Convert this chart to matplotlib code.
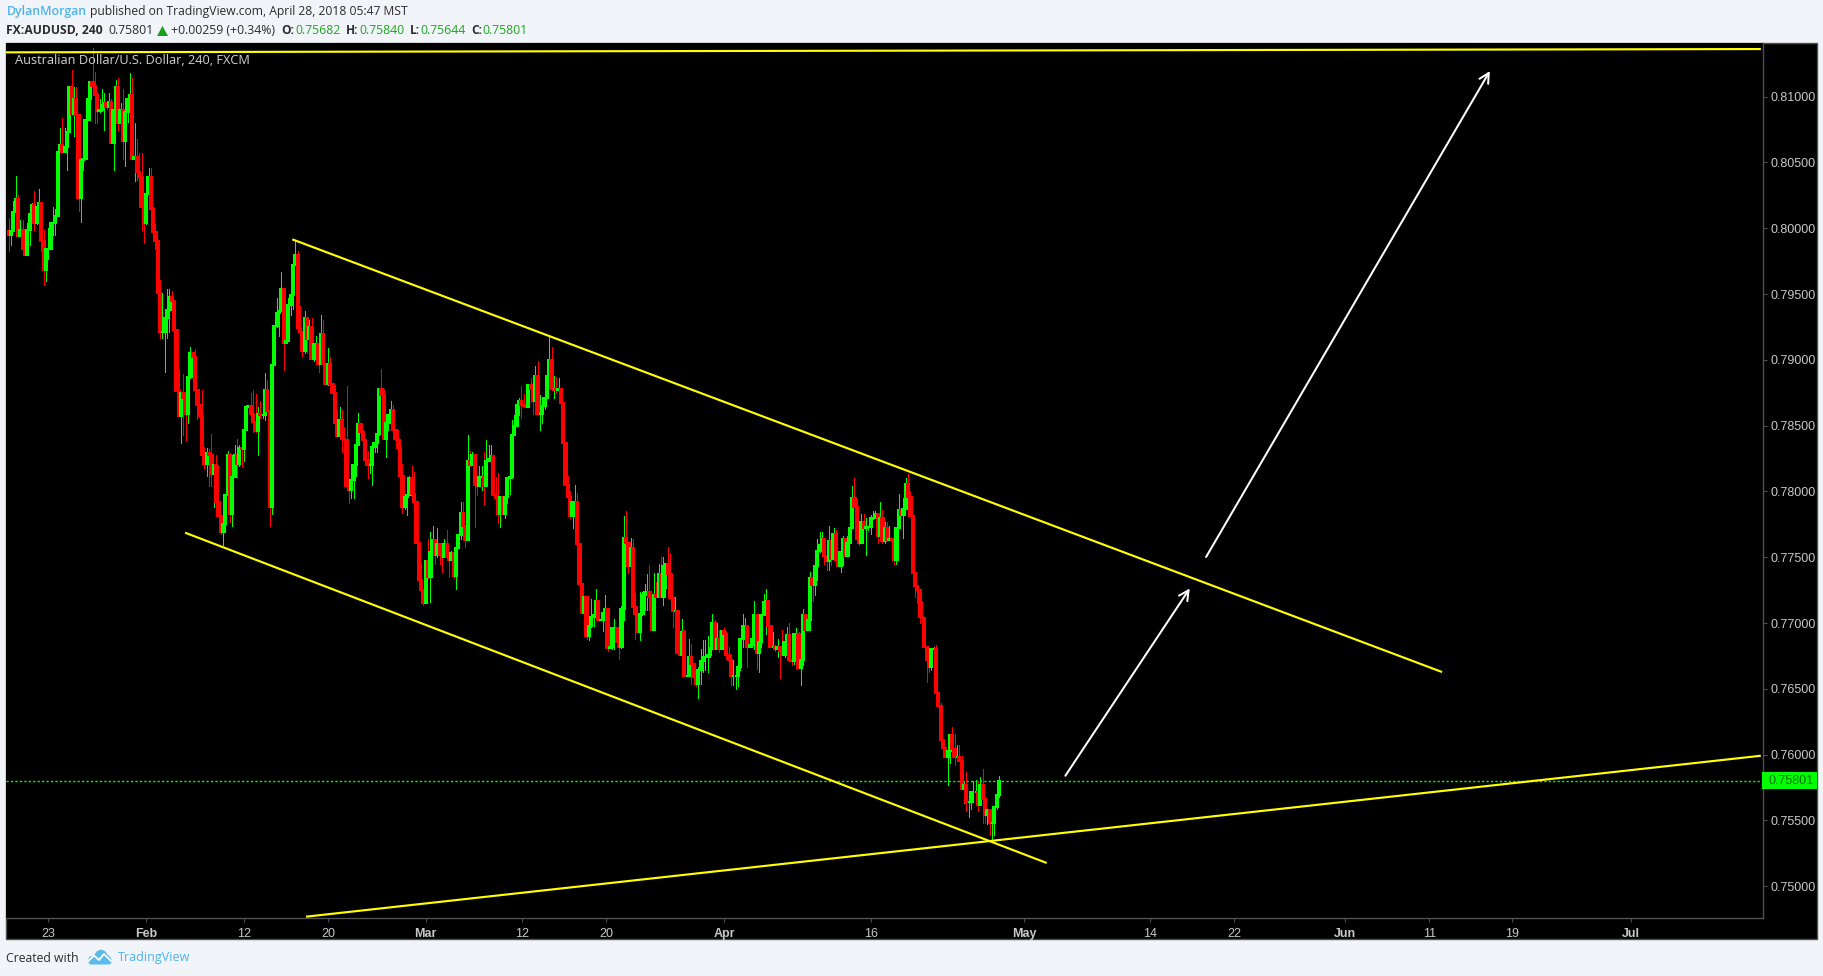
import matplotlib
matplotlib.use("Agg")
import matplotlib.pyplot as plt
from matplotlib.patches import Polygon, Rectangle

# ---- candle values, in 1/10000 of a dollar, one per 4h bar ----
first_open = 7998
closes = [
 7995,7998,8012,8022,7994,7999,7984,7980,7999,8011,8018,8004,8016,8019,7990,7968,7984,7984,8004,8004,
 8009,8058,8063,8058,8062,8073,8107,8087,8098,8086,8023,8052,8053,8082,8098,8111,8108,8101,8089,8090,
 8094,8095,8092,8096,8065,8090,8107,8080,8090,8066,8088,8098,8101,8053,8054,8043,8039,8016,8004,8026,
 8039,8015,7997,7990,7951,7921,7921,7932,7938,7948,7945,7923,7876,7857,7875,7871,7859,7887,7905,7902,
 7877,7866,7857,7828,7821,7829,7828,7813,7820,7792,7781,7769,7775,7797,7828,7783,7811,7828,7821,7833,
 7832,7847,7864,7865,7859,7853,7846,7859,7858,7858,7877,7861,7788,7896,7926,7936,7937,7954,7913,7914,
 7942,7949,7972,7980,7924,7921,7907,7932,7916,7925,7901,7912,7912,7897,7920,7897,7882,7897,7882,7875,
 7852,7842,7854,7840,7839,7804,7801,7809,7820,7835,7851,7845,7839,7824,7820,7820,7834,7837,7844,7878,
 7873,7840,7852,7858,7862,7847,7840,7833,7812,7788,7796,7797,7810,7798,7792,7761,7733,7725,7715,7747,
 7735,7754,7763,7752,7760,7752,7750,7760,7750,7748,7753,7736,7757,7767,7784,7774,7763,7823,7820,7828,
 7805,7804,7811,7811,7804,7823,7825,7827,7797,7795,7783,7796,7783,7796,7810,7811,7843,7850,7866,7869,
 7866,7865,7864,7881,7878,7869,7888,7859,7859,7865,7871,7888,7900,7878,7878,7877,7878,7867,7837,7805,
 7796,7781,7792,7792,7760,7730,7708,7720,7690,7698,7705,7706,7717,7702,7702,7708,7711,7681,7682,7696,
 7696,7686,7682,7711,7765,7761,7743,7757,7712,7707,7693,7707,7721,7724,7724,7720,7695,7721,7720,7737,
 7720,7743,7745,7737,7719,7709,7709,7677,7676,7693,7660,7660,7674,7669,7659,7654,7664,7671,7674,7674,
 7676,7681,7700,7680,7688,7680,7694,7692,7676,7672,7660,7660,7660,7667,7688,7698,7698,7682,7683,7688,
 7706,7677,7686,7706,7716,7717,7698,7682,7682,7680,7682,7679,7676,7686,7691,7672,7671,7692,7692,7666,
 7672,7706,7695,7702,7734,7729,7743,7755,7759,7764,7751,7747,7762,7749,7768,7748,7743,7754,7764,7751,
 7761,7772,7795,7788,7764,7761,7777,7772,7773,7773,7780,7780,7783,7766,7780,7762,7772,7763,7764,7763,
 7748,7772,7786,7782,7787,7806,7796,7781,7738,7728,7725,7705,7704,7682,7672,7667,7680,7680,7647,7637,
 7611,7605,7598,7603,7615,7604,7598,7598,7595,7574,7577,7564,7564,7572,7572,7572,7562,7577,7566,7554,
 7558,7548,7548,7560,7569,7580,
]
highs = [
 8008,8004,8021,8040,8025,8006,8006,7997,8004,8016,8019,8028,8018,8030,8019,7999,7985,8000,8004,8016,
 8015,8063,8076,8084,8076,8076,8107,8120,8107,8107,8086,8053,8053,8092,8100,8111,8137,8119,8103,8098,
 8106,8103,8096,8103,8098,8090,8113,8114,8095,8106,8090,8102,8118,8114,8080,8068,8057,8057,8018,8027,
 8046,8046,8016,8003,7990,7961,7951,7933,7954,7954,7952,7945,7923,7892,7875,7889,7877,7887,7910,7905,
 7908,7877,7866,7877,7834,7833,7832,7844,7820,7828,7820,7781,7775,7798,7831,7829,7828,7835,7840,7835,
 7840,7847,7866,7866,7875,7877,7874,7864,7869,7861,7890,7885,7861,7896,7926,7947,7949,7967,7954,7914,
 7947,7949,7975,7990,7983,7941,7921,7937,7932,7930,7932,7912,7918,7912,7934,7930,7897,7909,7902,7881,
 7881,7862,7864,7862,7849,7880,7804,7812,7821,7835,7860,7852,7847,7839,7831,7824,7837,7840,7845,7878,
 7893,7878,7854,7858,7869,7866,7847,7847,7840,7821,7798,7800,7812,7819,7815,7792,7761,7745,7725,7747,
 7764,7769,7774,7764,7772,7760,7760,7764,7771,7754,7755,7753,7757,7768,7792,7792,7774,7843,7831,7830,
 7828,7805,7819,7819,7830,7839,7835,7835,7827,7811,7814,7796,7796,7797,7810,7823,7854,7858,7866,7871,
 7880,7874,7866,7881,7886,7886,7895,7899,7873,7865,7871,7888,7918,7910,7888,7887,7886,7878,7867,7837,
 7812,7800,7793,7805,7799,7760,7730,7720,7708,7700,7718,7712,7726,7717,7702,7711,7721,7711,7693,7697,
 7703,7697,7686,7713,7781,7785,7761,7765,7764,7723,7707,7724,7724,7730,7737,7744,7720,7738,7731,7745,
 7750,7750,7746,7758,7753,7720,7720,7708,7679,7703,7695,7674,7688,7684,7669,7659,7667,7680,7687,7687,
 7690,7687,7707,7702,7700,7695,7694,7696,7694,7682,7676,7672,7667,7667,7688,7707,7704,7698,7688,7691,
 7717,7707,7686,7706,7722,7726,7717,7698,7693,7683,7688,7682,7695,7692,7697,7700,7682,7692,7696,7693,
 7675,7711,7706,7702,7739,7739,7743,7764,7769,7769,7764,7754,7774,7768,7772,7771,7748,7754,7766,7764,
 7766,7778,7804,7810,7794,7768,7783,7783,7780,7773,7782,7785,7785,7783,7792,7786,7777,7777,7774,7765,
 7772,7772,7798,7787,7795,7810,7813,7800,7781,7738,7726,7725,7717,7705,7682,7674,7681,7682,7683,7648,
 7639,7612,7606,7606,7615,7621,7616,7607,7607,7599,7580,7587,7569,7572,7580,7581,7580,7583,7589,7566,
 7559,7555,7552,7560,7569,7584,
]
lows = [
 7983,7987,7998,8011,7994,7994,7982,7980,7980,7987,8009,7999,8003,8004,7983,7957,7960,7977,7984,7995,
 7995,8010,8058,8058,8058,8044,8073,8086,8070,8070,8013,8005,8044,8053,8082,8082,8108,8080,8080,8088,
 8089,8075,8091,8092,8065,8044,8086,8075,8080,8053,8047,8081,8095,8053,8036,8037,8039,7999,7989,8003,
 8026,8008,7996,7984,7938,7917,7917,7891,7917,7921,7930,7923,7876,7857,7837,7843,7838,7852,7886,7901,
 7877,7855,7854,7828,7818,7812,7804,7804,7788,7792,7781,7768,7759,7769,7791,7777,7774,7811,7810,7819,
 7819,7823,7848,7864,7857,7845,7845,7828,7856,7856,7854,7861,7774,7783,7896,7925,7918,7937,7892,7913,
 7914,7934,7939,7972,7924,7921,7903,7905,7905,7909,7901,7899,7907,7891,7897,7891,7882,7881,7882,7875,
 7848,7842,7842,7830,7837,7804,7791,7795,7795,7812,7835,7845,7839,7824,7810,7814,7805,7830,7830,7843,
 7873,7840,7826,7847,7847,7847,7839,7833,7812,7784,7787,7782,7797,7798,7790,7761,7733,7724,7714,7715,
 7734,7716,7753,7745,7750,7745,7739,7750,7750,7735,7748,7734,7726,7757,7764,7774,7758,7763,7819,7820,
 7773,7797,7804,7801,7790,7810,7823,7824,7797,7793,7776,7773,7783,7780,7791,7798,7810,7843,7850,7858,
 7856,7864,7864,7864,7868,7859,7868,7859,7847,7852,7863,7871,7888,7877,7871,7875,7871,7867,7837,7805,
 7796,7780,7772,7788,7760,7720,7708,7708,7688,7687,7697,7698,7702,7702,7702,7694,7702,7679,7681,7680,
 7680,7686,7673,7681,7702,7761,7738,7742,7712,7688,7693,7687,7706,7710,7710,7710,7695,7695,7720,7721,
 7720,7714,7727,7737,7719,7697,7697,7677,7676,7676,7660,7660,7660,7654,7654,7652,7643,7654,7663,7664,
 7663,7674,7680,7680,7684,7678,7680,7689,7673,7669,7653,7653,7650,7652,7664,7682,7682,7667,7682,7682,
 7680,7665,7663,7682,7706,7692,7698,7682,7680,7679,7674,7658,7676,7674,7685,7672,7668,7669,7680,7666,
 7653,7668,7695,7695,7695,7717,7721,7733,7754,7754,7745,7740,7740,7744,7749,7747,7743,7739,7744,7751,
 7751,7762,7772,7788,7764,7759,7761,7772,7752,7771,7768,7779,7780,7761,7766,7761,7761,7763,7763,7762,
 7745,7745,7772,7782,7765,7787,7796,7781,7738,7720,7715,7700,7704,7682,7655,7663,7664,7667,7647,7637,
 7611,7605,7598,7577,7594,7598,7592,7597,7595,7574,7563,7557,7553,7559,7564,7562,7557,7564,7548,7548,
 7547,7539,7535,7539,7559,7568,
]

last_price = 0.75801
price_ticks = [0.75, 0.755, 0.76, 0.765, 0.77, 0.775, 0.78, 0.785, 0.79, 0.795, 0.80, 0.805, 0.81]
time_labels = ["23", "Feb", "12", "20", "Mar", "12", "20", "Apr", "16", "May", "14", "22", "Jun", "11", "19", "Jul"]
time_bars = [17, 59, 101, 137, 179, 220.5, 256.4, 307.2, 370.3, 435.9, 489.9, 526, 573.6, 609.7, 645.3, 696.4]
bold_labels = ["Feb", "Mar", "Apr", "May", "Jun", "Jul"]

# drawn lines, (bar, price) ends
top_line = ([-1.2, 752], [0.81337, 0.81362])
channel_upper = ([121.7, 615.2], [0.79916, 0.76628])
channel_lower = ([75.7, 445.5], [0.77687, 0.75177])
rising_line = ([127.6, 752], [0.74769, 0.75992])
arrow_near = ([453.5, 506.9], [0.7584, 0.77263])
arrow_far = ([513.9, 635.7], [0.77502, 0.81195])

PAGE = "#f1f4f8"
TXT = "#c8c8c8"
EDGE = "#505050"
GREEN = "#00ff00"
RED = "#ff0000"
YELLOW = "#ffff00"
BLUE = "#4db4ea"
DARK = "#2b2b2b"
LABEL_GREEN = "#1fa51f"

W, H = 1824, 976
fig = plt.figure(figsize=(W / 100, H / 100), dpi=100, facecolor=PAGE)

# page chrome in pixels
page = fig.add_axes([0, 0, 1, 1], zorder=0)
page.set_xlim(0, W)
page.set_ylim(H, 0)
page.axis("off")
page.add_patch(Rectangle((6, 43), 1811, 896, facecolor="black", edgecolor=EDGE, lw=1.0))

# price panel
L, R, T, B = 6, 1762.7, 43, 918
ax = fig.add_axes([L / W, 1 - B / H, (R - L) / W, (B - T) / H], zorder=1)
ax.set_facecolor("black")
ax.set_xlim(-1.16, 752.8)
ax.set_ylim(0.74759, 0.81408)

opens = [first_open] + closes[:-1]
bars = list(range(len(closes)))
to_price = lambda seq: [v / 10000 for v in seq]
o, c, hi, lo = map(to_price, (opens, closes, highs, lows))
cols = [GREEN if cc >= oo else RED for oo, cc in zip(o, c)]
ax.vlines(bars, lo, hi, colors=cols, lw=0.72, zorder=2, antialiased=False)
ax.bar(bars, [cc - oo for oo, cc in zip(o, c)], bottom=o, width=0.95, color=cols,
       edgecolor=cols, lw=0.2, zorder=3, antialiased=False)

ax.axhline(last_price, color=GREEN, lw=1.0, ls=(0, (1.6, 1.6)), zorder=1)

for xs, ys in (top_line, channel_upper, channel_lower, rising_line):
    ax.plot(xs, ys, color=YELLOW, lw=1.55, solid_capstyle="butt", zorder=5, clip_on=True)
for xs, ys in (arrow_near, arrow_far):
    ax.annotate("", xy=(xs[1], ys[1]), xytext=(xs[0], ys[0]), zorder=6,
                arrowprops=dict(arrowstyle="->,head_length=0.7,head_width=0.36", color="white",
                                lw=1.45, shrinkA=0, shrinkB=0))

for s in ("top", "left"):
    ax.spines[s].set_visible(False)
for s in ("right", "bottom"):
    ax.spines[s].set_color(EDGE)
    ax.spines[s].set_linewidth(1.0)

ax.yaxis.tick_right()
ax.set_yticks(price_ticks)
ax.set_yticklabels([f"{v:.5f}" for v in price_ticks], family="Liberation Sans", fontsize=9.0, color=TXT)
ax.tick_params(axis="y", length=3, width=0.8, color=EDGE, pad=2.6)
ax.set_xticks(time_bars)
ax.set_xticklabels(time_labels, family="Liberation Sans", fontsize=9.0, color=TXT)
for t in ax.get_xticklabels():
    if t.get_text() in bold_labels:
        t.set_fontweight("bold")
ax.tick_params(axis="x", length=3, width=0.8, color=EDGE, pad=4.5)

# last price tag
page2 = fig.add_axes([0, 0, 1, 1], zorder=2)
page2.set_xlim(0, W)
page2.set_ylim(H, 0)
page2.axis("off")
page2.add_patch(Rectangle((1762.3, 772), 54.7, 17, facecolor="#00ff00", edgecolor="none"))
page2.text(1769, 781, f"{last_price:.5f}", family="Liberation Sans", fontsize=9.0, color="#0b6b0b",
           va="center", ha="left")

HEAD = "Open Sans"
def put(x, y, s, color=DARK, weight="normal", size=8.9, fam=HEAD):
    page2.text(x, y, s, family=fam, fontsize=size, color=color, fontweight=weight, va="center", ha="left")

put(15.4, 60.3, "Australian Dollar/U.S. Dollar, 240, FXCM", color="#d2d2d2", size=9.15)
put(6.4, 12, "DylanMorgan", color=BLUE, weight="semibold", size=8.95)
put(90.3, 12, "published on TradingView.com, April 28, 2018 05:47 MST", size=8.75)
put(6.4, 30, "FX:AUDUSD, 240", weight="bold", size=8.7)
put(108, 30, "0.75801", size=8.8)
page2.add_patch(Polygon([(157, 36), (168, 36), (162.5, 26)], facecolor="#1a9f1a", edgecolor="none"))
put(171, 30, "+0.00259 (+0.34%)", size=8.8)
for lx, vx, letter, val in ((281, 295, "O:", "0.75682"), (346, 359, "H:", "0.75840"),
                            (410, 420, "L:", "0.75644"), (471, 482, "C:", "0.75801")):
    put(lx, 30, letter, weight="bold", size=8.6)
    put(vx, 30, val, color=LABEL_GREEN, size=8.8)

put(6.4, 958, "Created with", size=8.8)
put(118, 958, "TradingView", color=BLUE, size=9.0)
page2.add_patch(Polygon([(88, 962), (89, 957), (94, 955), (97, 951), (101, 949.5), (105, 951), (108, 955),
                         (111, 958), (112, 962), (110, 964.5), (90, 964.5)],
                        facecolor="#5cbbe9", edgecolor="none"))
page2.plot([88.5, 94, 99, 104, 111], [961, 955.5, 960, 954, 961], color="white", lw=1.3)

fig.savefig("out.png", dpi=100, facecolor=PAGE)
